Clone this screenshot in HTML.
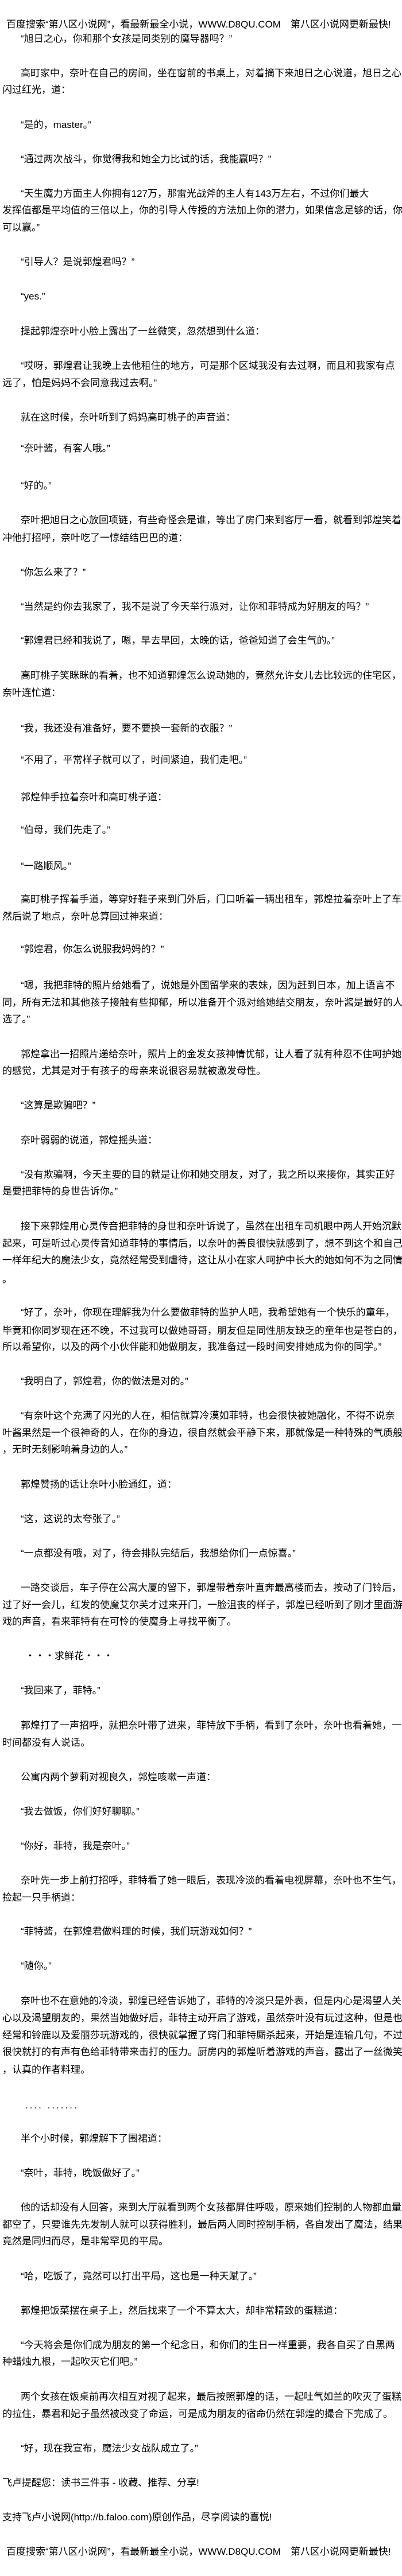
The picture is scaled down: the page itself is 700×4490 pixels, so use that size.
<!DOCTYPE html>
<html><head><meta charset="utf-8">
<style>
html,body{margin:0;padding:0;background:#fff;}
body{width:700px;height:4490px;position:relative;overflow:hidden;font-family:"Liberation Sans","Noto Sans CJK SC",sans-serif;font-size:17px;color:#000;}
div{position:absolute;left:4px;height:30px;line-height:30px;white-space:nowrap;}
.p{left:36px;}
.h{left:11px;}
</style></head><body>
<div class="h" style="top:28px">百度搜索“第八区小说网”，看最新最全小说，WWW.D8QU.COM　第八区小说网更新最快!</div>
<div class="p" style="top:53px">“旭日之心，你和那个女孩是同类别的魔导器吗？”</div>
<div class="p" style="top:113px">高町家中，奈叶在自己的房间，坐在窗前的书桌上，对着摘下来旭日之心说道，旭日之心</div>
<div style="top:142px">闪过红光，道：</div>
<div class="p" style="top:203px">“是的，master。”</div>
<div class="p" style="top:263px">“通过两次战斗，你觉得我和她全力比试的话，我能赢吗？”</div>
<div class="p" style="top:323px">“天生魔力方面主人你拥有127万，那雷光战斧的主人有143万左右，不过你们最大</div>
<div style="top:352px">发挥值都是平均值的三倍以上，你的引导人传授的方法加上你的潜力，如果信念足够的话，你</div>
<div style="top:382px">可以赢。”</div>
<div class="p" style="top:442px">“引导人？是说郭煌君吗？”</div>
<div class="p" style="top:502px">“yes.”</div>
<div class="p" style="top:563px">提起郭煌奈叶小脸上露出了一丝微笑，忽然想到什么道：</div>
<div class="p" style="top:623px">“哎呀，郭煌君让我晚上去他租住的地方，可是那个区域我没有去过啊，而且和我家有点</div>
<div style="top:653px">远了，怕是妈妈不会同意我过去啊。”</div>
<div class="p" style="top:713px">就在这时候，奈叶听到了妈妈高町桃子的声音道：</div>
<div class="p" style="top:767px">“奈叶酱，有客人哦。”</div>
<div class="p" style="top:832px">“好的。”</div>
<div class="p" style="top:892px">奈叶把旭日之心放回项链，有些奇怪会是谁，等出了房门来到客厅一看，就看到郭煌笑着</div>
<div style="top:923px">冲他打招呼，奈叶吃了一惊结结巴巴的道：</div>
<div class="p" style="top:983px">“你怎么来了？”</div>
<div class="p" style="top:1043px">“当然是约你去我家了，我不是说了今天举行派对，让你和菲特成为好朋友的吗？”</div>
<div class="p" style="top:1102px">“郭煌君已经和我说了，嗯，早去早回，太晚的话，爸爸知道了会生气的。”</div>
<div class="p" style="top:1163px">高町桃子笑眯眯的看着，也不知道郭煌怎么说动她的，竟然允许女儿去比较远的住宅区，</div>
<div style="top:1193px">奈叶连忙道：</div>
<div class="p" style="top:1255px">“我，我还没有准备好，要不要换一套新的衣服？”</div>
<div class="p" style="top:1310px">“不用了，平常样子就可以了，时间紧迫，我们走吧。”</div>
<div class="p" style="top:1375px">郭煌伸手拉着奈叶和高町桃子道：</div>
<div class="p" style="top:1432px">“伯母，我们先走了。”</div>
<div class="p" style="top:1495px">“一路顺风。”</div>
<div class="p" style="top:1553px">高町桃子挥着手道，等穿好鞋子来到门外后，门口听着一辆出租车，郭煌拉着奈叶上了车</div>
<div style="top:1583px">然后说了地点，奈叶总算回过神来道：</div>
<div class="p" style="top:1640px">“郭煌君，你怎么说服我妈妈的？”</div>
<div class="p" style="top:1703px">“嗯，我把菲特的照片给她看了，说她是外国留学来的表妹，因为赶到日本，加上语言不</div>
<div style="top:1733px">同，所有无法和其他孩子接触有些抑郁，所以准备开个派对给她结交朋友，奈叶酱是最好的人</div>
<div style="top:1762px">选了。”</div>
<div class="p" style="top:1823px">郭煌拿出一招照片递给奈叶，照片上的金发女孩神情忧郁，让人看了就有种忍不住呵护她</div>
<div style="top:1852px">的感觉，尤其是对于有孩子的母亲来说很容易就被激发母性。</div>
<div class="p" style="top:1912px">“这算是欺骗吧？”</div>
<div class="p" style="top:1973px">奈叶弱弱的说道，郭煌摇头道：</div>
<div class="p" style="top:2033px">“没有欺骗啊，今天主要的目的就是让你和她交朋友，对了，我之所以来接你，其实正好</div>
<div style="top:2062px">是要把菲特的身世告诉你。”</div>
<div class="p" style="top:2123px">接下来郭煌用心灵传音把菲特的身世和奈叶诉说了，虽然在出租车司机眼中两人开始沉默</div>
<div style="top:2153px">起来，可是听过心灵传音知道菲特的事情后，以奈叶的善良很快就感到了，想不到这个和自己</div>
<div style="top:2182px">一样年纪大的魔法少女，竟然经常受到虐待，这让从小在家人呵护中长大的她如何不为之同情</div>
<div style="top:2215px">。</div>
<div class="p" style="top:2273px">“好了，奈叶，你现在理解我为什么要做菲特的监护人吧，我希望她有一个快乐的童年，</div>
<div style="top:2305px">毕竟和你同岁现在还不晚，不过我可以做她哥哥，朋友但是同性朋友缺乏的童年也是苍白的，</div>
<div style="top:2333px">所以希望你，以及的两个小伙伴能和她做朋友，我准备过一段时间安排她成为你的同学。”</div>
<div class="p" style="top:2393px">“我明白了，郭煌君，你的做法是对的。”</div>
<div class="p" style="top:2453px">“有奈叶这个充满了闪光的人在，相信就算冷漠如菲特，也会很快被她融化，不得不说奈</div>
<div style="top:2483px">叶酱果然是一个很神奇的人，在你的身边，很自然就会平静下来，那就像是一种特殊的气质般</div>
<div style="top:2512px">，无时无刻影响着身边的人。”</div>
<div class="p" style="top:2573px">郭煌赞扬的话让奈叶小脸通红，道：</div>
<div class="p" style="top:2633px">“这，这说的太夸张了。”</div>
<div class="p" style="top:2693px">“一点都没有哦，对了，待会排队完结后，我想给你们一点惊喜。”</div>
<div class="p" style="top:2753px">一路交谈后，车子停在公寓大厦的留下，郭煌带着奈叶直奔最高楼而去，按动了门铃后，</div>
<div style="top:2783px">过了好一会儿，红发的使魔艾尔芙才过来开门，一脸沮丧的样子，郭煌已经听到了刚才里面游</div>
<div style="top:2812px">戏的声音，看来菲特有在可怜的使魔身上寻找平衡了。</div>
<div style="top:2872px;left:44px">・・・求鲜花・・・</div>
<div class="p" style="top:2932px">“我回来了，菲特。”</div>
<div class="p" style="top:2993px">郭煌打了一声招呼，就把奈叶带了进来，菲特放下手柄，看到了奈叶，奈叶也看着她，一</div>
<div style="top:3023px">时间都没有人说话。</div>
<div class="p" style="top:3083px">公寓内两个萝莉对视良久，郭煌咳嗽一声道：</div>
<div class="p" style="top:3143px">“我去做饭，你们好好聊聊。”</div>
<div class="p" style="top:3203px">“你好，菲特，我是奈叶。”</div>
<div class="p" style="top:3263px">奈叶先一步上前打招呼，菲特看了她一眼后，表现冷淡的看着电视屏幕，奈叶也不生气，</div>
<div style="top:3293px">捡起一只手柄道：</div>
<div class="p" style="top:3352px">“菲特酱，在郭煌君做料理的时候，我们玩游戏如何？”</div>
<div class="p" style="top:3412px">“随你。”</div>
<div class="p" style="top:3473px">奈叶也不在意她的冷淡，郭煌已经告诉她了，菲特的冷淡只是外表，但是内心是渴望人关</div>
<div style="top:3503px">心以及渴望朋友的，果然当她做好后，菲特主动开启了游戏，虽然奈叶没有玩过这种，但是也</div>
<div style="top:3533px">经常和铃鹿以及爱丽莎玩游戏的，很快就掌握了窍门和菲特厮杀起来，开始是连输几句，不过</div>
<div style="top:3562px">很快就打的有声有色给菲特带来击打的压力。厨房内的郭煌听着游戏的声音，露出了一丝微笑</div>
<div style="top:3593px">，认真的作者料理。</div>
<div style="top:3655px;left:44px;letter-spacing:3px">.... .......</div>
<div class="p" style="top:3713px">半个小时候，郭煌解下了围裙道：</div>
<div class="p" style="top:3773px">“奈叶，菲特，晚饭做好了。”</div>
<div class="p" style="top:3833px">他的话却没有人回答，来到大厅就看到两个女孩都屏住呼吸，原来她们控制的人物都血量</div>
<div style="top:3863px">都空了，只要谁先先发制人就可以获得胜利，最后两人同时控制手柄，各自发出了魔法，结果</div>
<div style="top:3892px">竟然是同归而尽，是非常罕见的平局。</div>
<div class="p" style="top:3953px">“哈，吃饭了，竟然可以打出平局，这也是一种天赋了。”</div>
<div class="p" style="top:4013px">郭煌把饭菜摆在桌子上，然后找来了一个不算太大，却非常精致的蛋糕道：</div>
<div class="p" style="top:4073px">“今天将会是你们成为朋友的第一个纪念日，和你们的生日一样重要，我各自买了白黑两</div>
<div style="top:4102px">种蜡烛九根，一起吹灭它们吧。”</div>
<div class="p" style="top:4163px">两个女孩在饭桌前再次相互对视了起来，最后按照郭煌的话，一起吐气如兰的吹灭了蛋糕</div>
<div style="top:4193px">的拉住，暴君和妃子虽然被改变了命运，可是成为朋友的宿命仍然在郭煌的撮合下完成了。</div>
<div class="p" style="top:4253px">“好，现在我宣布，魔法少女战队成立了。”</div>
<div style="top:4313px">飞卢提醒您：读书三件事 - 收藏、推荐、分享!</div>
<div style="top:4373px">支持飞卢小说网(http://b.faloo.com)原创作品，尽享阅读的喜悦!</div>
<div class="h" style="top:4433px">百度搜索“第八区小说网”，看最新最全小说，WWW.D8QU.COM　第八区小说网更新最快!</div>
</body></html>
